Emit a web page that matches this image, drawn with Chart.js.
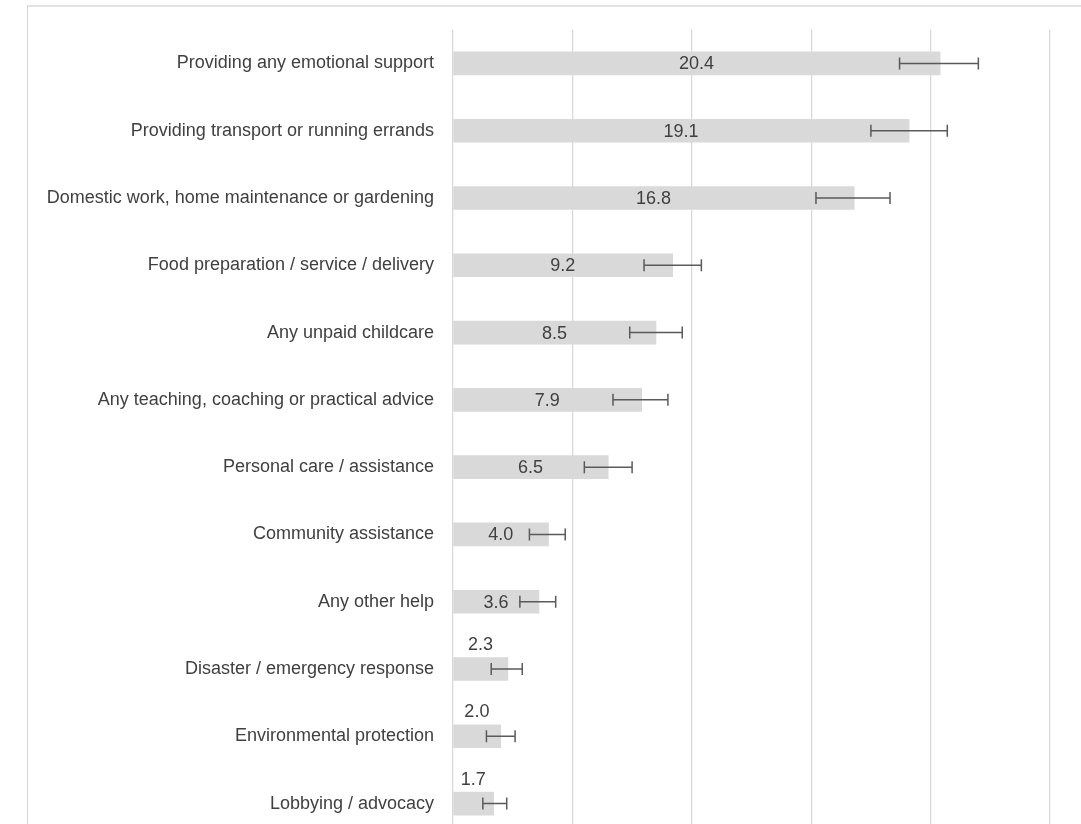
<!DOCTYPE html>
<html>
<head>
<meta charset="utf-8">
<script src="https://cdn.jsdelivr.net/npm/chart.js@4.4.1/dist/chart.umd.min.js"></script>
<style>
  html, body { margin: 0; padding: 0; background: #fff; overflow: hidden; }
  #wrap { position: relative; width: 1081px; height: 824px; overflow: hidden; }
  #frame { position: absolute; left: 27px; top: 5px; width: 1060px; height: 860px;
           border-left: 1px solid #d4d4d4; border-top: 2px solid #e2e2e2; }
  canvas { position: absolute; left: 0; top: 0; }
</style>
</head>
<body>
<div id="wrap">
  <div id="frame"></div>
  <canvas id="chart" width="1081" height="867"></canvas>
</div>
<script>
const categories = [
  "Providing any emotional support",
  "Providing transport or running errands",
  "Domestic work, home maintenance or gardening",
  "Food preparation / service / delivery",
  "Any unpaid childcare",
  "Any teaching, coaching or practical advice",
  "Personal care / assistance",
  "Community assistance",
  "Any other help",
  "Disaster / emergency response",
  "Environmental protection",
  "Lobbying / advocacy"
];
const values = [20.4, 19.1, 16.8, 9.2, 8.5, 7.9, 6.5, 4.0, 3.6, 2.3, 2.0, 1.7];
const errLow = [18.7, 17.5, 15.2, 8.0, 7.4, 6.7, 5.5, 3.2, 2.8, 1.6, 1.4, 1.25];
const errHigh = [22.0, 20.7, 18.3, 10.4, 9.6, 9.0, 7.5, 4.7, 4.3, 2.9, 2.6, 2.25];
const xTicks = [0, 5, 10, 15, 20, 25];

const textColor = "#404040";
const font = "Liberation Sans, Arial, sans-serif";

// error bars with caps
const errorBars = {
  id: "errorBars",
  afterDatasetsDraw(chart) {
    const ctx = chart.ctx;
    const x = chart.scales.x;
    const meta = chart.getDatasetMeta(0);
    ctx.save();
    ctx.strokeStyle = "#5a5a5a";
    ctx.lineWidth = 1.5;
    meta.data.forEach((bar, i) => {
      const x1 = x.getPixelForValue(errLow[i]);
      const x2 = x.getPixelForValue(errHigh[i]);
      const y = bar.y;
      ctx.beginPath();
      ctx.moveTo(x1, y); ctx.lineTo(x2, y);
      ctx.moveTo(x1, y - 6); ctx.lineTo(x1, y + 6);
      ctx.moveTo(x2, y - 6); ctx.lineTo(x2, y + 6);
      ctx.stroke();
    });
    ctx.restore();
  }
};

// value labels: centred in bar, above it when the bar is too short
const valueLabels = {
  id: "valueLabels",
  afterDatasetsDraw(chart) {
    const ctx = chart.ctx;
    const x = chart.scales.x;
    const meta = chart.getDatasetMeta(0);
    ctx.save();
    ctx.fillStyle = textColor;
    ctx.font = "18px " + font;
    ctx.textAlign = "center";
    ctx.textBaseline = "middle";
    meta.data.forEach((bar, i) => {
      const cx = x.getPixelForValue(values[i] / 2);
      const cy = values[i] < 3 ? bar.y - 24 : bar.y + 1;
      ctx.fillText(values[i].toFixed(1), cx, cy);
    });
    ctx.restore();
  }
};

new Chart(document.getElementById("chart"), {
  type: "bar",
  data: {
    labels: categories,
    datasets: [{
      data: values,
      backgroundColor: "#d9d9d9",
      barThickness: 23
    }]
  },
  options: {
    indexAxis: "y",
    responsive: false,
    maintainAspectRatio: false,
    animation: false,
    layout: { padding: { top: 29, right: 31, bottom: 3, left: 0 } },
    plugins: {
      legend: { display: false },
      tooltip: { enabled: false }
    },
    scales: {
      x: {
        min: 0,
        max: 25,
        afterBuildTicks(scale) { scale.ticks = xTicks.map(v => ({ value: v })); },
        afterFit(scale) { scale.height = 0; },
        ticks: { display: false },
        grid: { color: "#d9d9d9", lineWidth: 1.3, drawTicks: false },
        border: { display: false }
      },
      y: {
        afterFit(scale) { scale.width = 453; },
        ticks: {
          color: textColor,
          font: { family: font, size: 18 },
          padding: 19
        },
        grid: { display: false, drawTicks: false },
        border: { display: false }
      }
    }
  },
  plugins: [errorBars, valueLabels]
});
</script>
</body>
</html>
